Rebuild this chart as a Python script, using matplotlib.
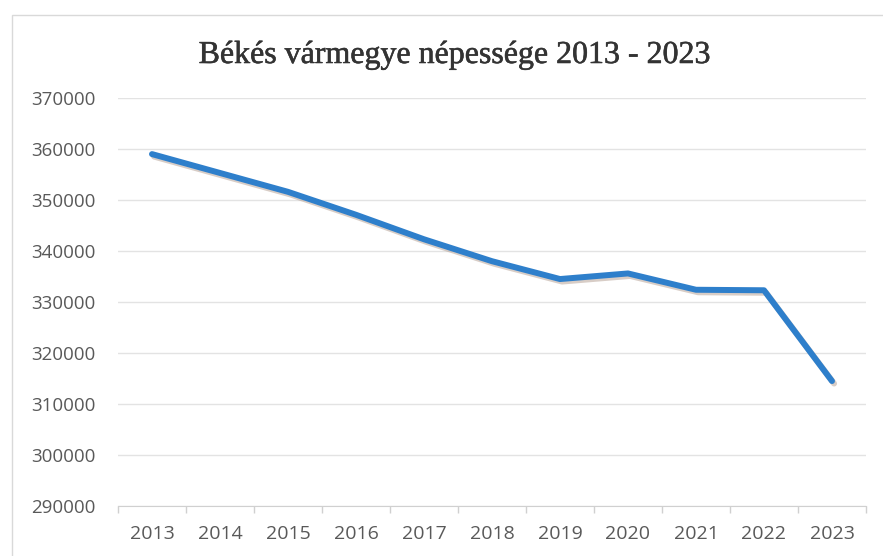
import matplotlib.pyplot as plt
import matplotlib.patheffects as pe
from matplotlib.patches import Rectangle
from matplotlib.ticker import FixedLocator, NullFormatter

YEARS = ["2013", "2014", "2015", "2016", "2017", "2018",
         "2019", "2020", "2021", "2022", "2023"]
POPULATION = [359000, 355300, 351600, 347100, 342300, 338000,
              334500, 335600, 332400, 332300, 314500]
Y_TICKS = [290000, 300000, 310000, 320000, 330000, 340000, 350000, 360000, 370000]
TITLE = "Békés vármegye népessége 2013 - 2023"

fig = plt.figure(figsize=(8.83, 5.56), dpi=100)
fig.patch.set_facecolor("white")
# chart frame
fig.patches.append(Rectangle((12 / 883, -0.01), 1.0, 1.0 - 15 / 556 + 0.01,
                             transform=fig.transFigure, fill=False,
                             edgecolor="#d9d9d9", lw=1.0))

ax = fig.add_axes([118 / 883, 1 - 506 / 556, (866 - 118) / 883, (506 - 98) / 556])
x = list(range(len(YEARS)))
ax.plot(x, POPULATION, color="#2e7fcb", lw=4.3, solid_joinstyle="round",
        solid_capstyle="round",
        path_effects=[pe.SimpleLineShadow(offset=(1.5, -1.8), shadow_color="#b8a498",
                                          alpha=0.55), pe.Normal()])

ax.set_xlim(-0.5, len(YEARS) - 0.5)
ax.set_ylim(Y_TICKS[0], Y_TICKS[-1])
ax.set_yticks(Y_TICKS)
ax.set_yticklabels([str(v) for v in Y_TICKS])
ax.set_xticks(x)
ax.set_xticklabels(YEARS)
ax.xaxis.set_minor_locator(FixedLocator([i - 0.5 for i in range(len(YEARS) + 1)]))
ax.xaxis.set_minor_formatter(NullFormatter())

ax.grid(axis="y", color="#e3e3e3", lw=1.0)
ax.set_axisbelow(True)
for side in ["top", "right", "left"]:
    ax.spines[side].set_visible(False)
ax.spines["bottom"].set_color("#d0d0d0")
ax.spines["bottom"].set_zorder(0)

ax.tick_params(axis="y", length=0, pad=16, labelsize=13.5, labelcolor="#595959")
ax.tick_params(axis="x", which="major", length=0, pad=14, labelsize=14,
               labelcolor="#595959")
ax.tick_params(axis="x", which="minor", length=5, color="#d0d0d0", width=1)
for lbl in ax.get_xticklabels() + ax.get_yticklabels():
    lbl.set_fontfamily("Open Sans")

fig.text(455 / 883, 1 - 63 / 556, TITLE, ha="center", va="baseline",
         fontsize=23, color="#333333", family="Liberation Serif",
         path_effects=[pe.withStroke(linewidth=0.4, foreground="#333333")])

fig.savefig("out.png", dpi=100)
